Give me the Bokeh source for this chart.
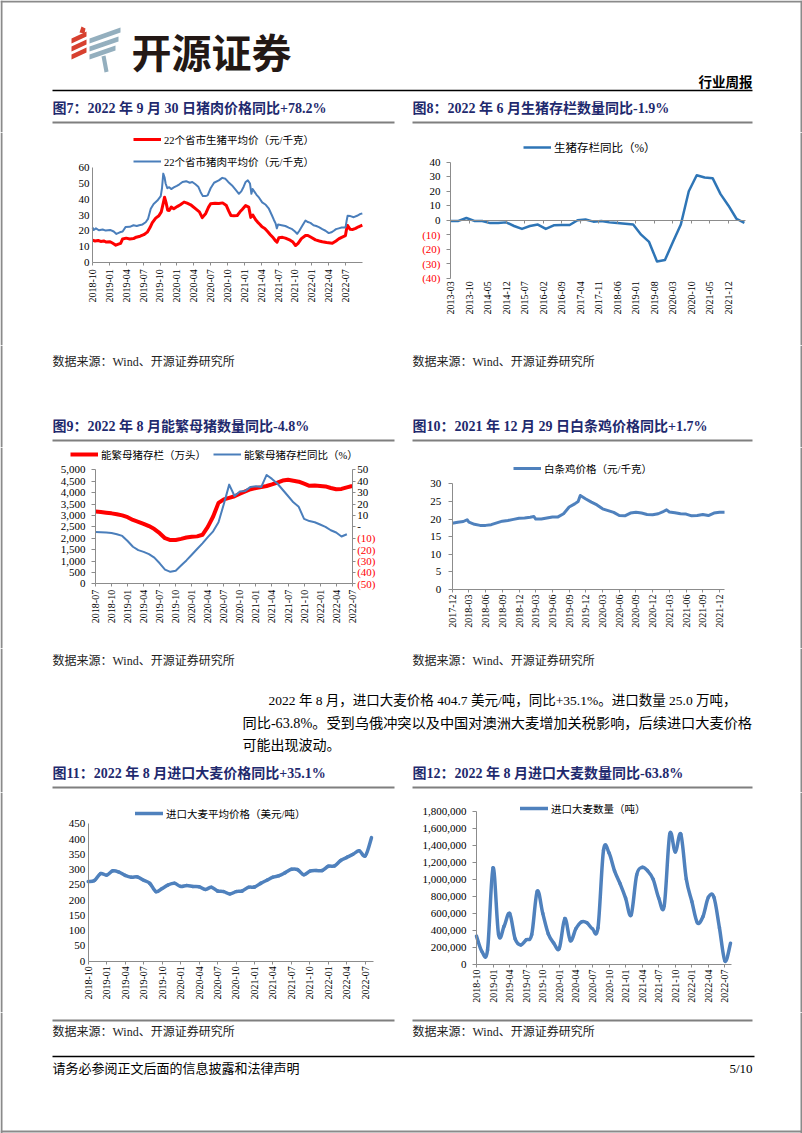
import math
import calendar
from bokeh.plotting import figure
from bokeh.layouts import column, row
from bokeh.models import (Range1d, LinearAxis, FixedTicker, NumeralTickFormatter,
                          Legend, LegendItem, ColumnDataSource, Span)
from bokeh.core.properties import value
from bokeh.embed import file_html
from bokeh.resources import INLINE

# ---------------------------------------------------------------- data
# Fig 7: 22-province pig / pork prices (yuan/kg)
c7_pork_dates = ["2018-10-01", "2018-10-08", "2018-10-20", "2018-11-05", "2018-11-25", "2018-12-12",
                 "2019-01-05", "2019-01-25", "2019-02-08", "2019-02-25", "2019-03-12", "2019-03-28",
                 "2019-04-20", "2019-05-10", "2019-05-28", "2019-06-10", "2019-06-28", "2019-07-15",
                 "2019-07-28", "2019-08-12", "2019-08-28", "2019-09-17", "2019-10-05", "2019-10-12",
                 "2019-10-19", "2019-10-26", "2019-11-01", "2019-11-10", "2019-11-20", "2019-12-01",
                 "2019-12-15", "2020-01-01", "2020-01-15", "2020-02-01", "2020-02-20", "2020-03-10",
                 "2020-03-24", "2020-04-10", "2020-04-25", "2020-05-08", "2020-05-20", "2020-06-04",
                 "2020-06-15", "2020-07-01", "2020-07-20", "2020-08-15", "2020-09-03", "2020-09-20",
                 "2020-10-05", "2020-10-26", "2020-11-15", "2020-12-02", "2020-12-15", "2020-12-28",
                 "2021-01-08", "2021-01-20", "2021-02-01", "2021-02-08", "2021-02-14", "2021-02-22",
                 "2021-03-05", "2021-03-20", "2021-04-06", "2021-04-25", "2021-05-12", "2021-05-28",
                 "2021-06-08", "2021-06-18", "2021-06-24", "2021-07-01", "2021-07-20", "2021-08-10",
                 "2021-08-28", "2021-09-16", "2021-10-01", "2021-10-13", "2021-10-25", "2021-11-09",
                 "2021-11-27", "2021-12-10", "2021-12-24", "2022-01-10", "2022-01-25", "2022-02-08",
                 "2022-02-25", "2022-03-14", "2022-04-01", "2022-04-15", "2022-04-28", "2022-05-10",
                 "2022-05-25", "2022-06-10", "2022-06-25", "2022-07-01", "2022-07-06", "2022-07-12",
                 "2022-07-27", "2022-08-15", "2022-09-02", "2022-09-20", "2022-09-30"]
c7_pork_vals = [22.0, 20.5, 21.5, 20.3, 20.8, 20.1,
                20.5, 19.5, 18.0, 19.0, 19.5, 22.3,
                22.5, 23.5, 23.0, 23.5, 24.0, 25.4,
                27.5, 34.0, 37.0, 39.2, 42.0, 47.0,
                56.3, 54.0, 50.0, 47.0, 47.7, 46.5,
                47.5, 48.5, 49.5, 51.0, 51.5, 50.5,
                51.0, 49.5, 48.0, 44.5, 42.0, 42.0,
                42.5, 47.0, 50.5, 52.0, 53.6, 53.0,
                51.0, 48.8, 46.0, 43.5, 45.0, 48.0,
                51.0, 52.0, 50.0, 43.5, 46.5, 45.0,
                43.0, 41.0, 38.0, 36.5, 34.0, 30.0,
                27.0, 24.5, 21.5, 24.0, 23.5, 23.0,
                22.0, 21.0, 19.5, 18.0, 20.0, 23.0,
                26.5, 25.5, 25.0, 23.5, 23.0, 22.3,
                21.0, 20.0, 18.5, 19.0, 20.0, 21.0,
                21.5, 22.0, 22.0, 22.5, 26.0, 29.5,
                29.3, 28.6, 29.5, 30.7, 31.0]
c7_pig_dates = ["2018-10-01", "2018-10-15", "2018-11-01", "2018-11-15", "2018-12-01", "2018-12-15",
                "2019-01-05", "2019-01-20", "2019-02-05", "2019-02-18", "2019-03-01", "2019-03-12",
                "2019-04-01", "2019-04-20", "2019-05-10", "2019-05-25", "2019-06-15", "2019-07-05",
                "2019-07-24", "2019-08-08", "2019-08-20", "2019-09-08", "2019-09-25", "2019-10-08",
                "2019-10-20", "2019-10-26", "2019-11-03", "2019-11-12", "2019-11-20", "2019-12-01",
                "2019-12-15", "2020-01-05", "2020-01-20", "2020-02-09", "2020-02-25", "2020-03-15",
                "2020-04-10", "2020-05-01", "2020-05-17", "2020-06-05", "2020-06-20", "2020-07-01",
                "2020-07-25", "2020-08-15", "2020-09-05", "2020-09-25", "2020-10-08", "2020-10-20",
                "2020-11-05", "2020-11-23", "2020-12-08", "2020-12-20", "2021-01-08", "2021-01-25",
                "2021-02-05", "2021-02-15", "2021-03-01", "2021-03-12", "2021-03-25", "2021-04-05",
                "2021-04-20", "2021-05-05", "2021-05-20", "2021-06-05", "2021-06-18", "2021-06-25",
                "2021-07-05", "2021-07-25", "2021-08-10", "2021-09-05", "2021-09-20", "2021-10-04",
                "2021-10-18", "2021-11-05", "2021-11-27", "2021-12-10", "2021-12-25", "2022-01-21",
                "2022-02-10", "2022-02-25", "2022-03-20", "2022-04-20", "2022-05-10", "2022-05-25",
                "2022-06-10", "2022-06-30", "2022-07-06", "2022-07-12", "2022-07-25", "2022-08-10",
                "2022-08-25", "2022-09-10", "2022-09-30"]
c7_pig_vals = [14.0, 13.5, 13.8, 13.2, 13.5, 12.8,
               13.0, 12.0, 10.8, 11.5, 12.0, 14.8,
               15.3, 14.8, 15.0, 15.9, 16.5, 17.5,
               19.1, 22.0, 25.0, 28.0, 29.5, 32.0,
               38.0, 41.3, 38.0, 33.0, 32.9, 35.0,
               34.0, 35.5, 36.5, 38.2, 37.5, 36.5,
               34.0, 32.0, 28.3, 31.0, 35.0, 37.1,
               37.5, 37.3, 37.7, 36.0, 32.5, 29.7,
               29.5, 29.7, 32.0, 33.5, 36.0, 35.0,
               28.5, 30.0, 27.0, 25.5, 24.0, 22.5,
               21.4, 19.5, 17.5, 15.5, 13.5, 12.7,
               15.5, 15.8, 15.3, 14.0, 12.8, 10.6,
               12.0, 15.0, 17.0, 17.0, 16.0, 14.2,
               13.5, 13.0, 12.5, 12.0, 13.5, 14.8,
               15.8, 16.9, 21.0, 23.3, 21.0, 20.8,
               21.5, 22.5, 23.5]
c7_ticks = ["2018-10", "2019-01", "2019-04", "2019-07", "2019-10", "2020-01", "2020-04", "2020-07",
            "2020-10", "2021-01", "2021-04", "2021-07", "2021-10", "2022-01", "2022-04", "2022-07"]

# Fig 8: hog inventory yoy (%)
c8_dates = ["2013-03", "2013-06", "2013-09", "2013-12", "2014-03", "2014-06", "2014-09", "2014-12",
            "2015-03", "2015-06", "2015-09", "2015-12", "2016-03", "2016-06", "2016-09", "2016-12",
            "2017-03", "2017-06", "2017-09", "2017-12", "2018-03", "2018-06", "2018-09", "2018-12",
            "2019-03", "2019-06", "2019-09", "2019-12", "2020-03", "2020-06", "2020-09", "2020-12",
            "2021-03", "2021-06", "2021-09", "2021-12", "2022-03", "2022-06"]
c8_vals = [-0.5, -0.5, 1.5, -0.5, -0.5, -2.0, -2.0, -1.5,
           -4.0, -6.0, -4.0, -3.0, -6.0, -3.5, -3.3, -3.3,
           0.0, 0.5, -1.0, -0.5, -1.5, -2.0, -2.5, -3.0,
           -10.0, -15.0, -28.5, -27.5, -15.0, -3.0, 20.0, 31.0,
           29.5, 29.0, 18.0, 10.0, 1.0, -1.9]
c8_ticks = ["2013-03", "2013-10", "2014-05", "2014-12", "2015-07", "2016-02", "2016-09", "2017-04",
            "2017-11", "2018-06", "2019-01", "2019-08", "2020-03", "2020-10", "2021-05", "2021-12"]

# Fig 9: breeding sows inventory (10k head) and yoy (%)
c9_dates = ["2018-07", "2018-08", "2018-09", "2018-10", "2018-11", "2018-12",
            "2019-01", "2019-02", "2019-03", "2019-04", "2019-05", "2019-06",
            "2019-07", "2019-08", "2019-09", "2019-10", "2019-11", "2019-12",
            "2020-01", "2020-02", "2020-03", "2020-04", "2020-05", "2020-06",
            "2020-07", "2020-08", "2020-09", "2020-10", "2020-11", "2020-12",
            "2021-01", "2021-02", "2021-03", "2021-04", "2021-05", "2021-06",
            "2021-07", "2021-08", "2021-09", "2021-10", "2021-11", "2021-12",
            "2022-01", "2022-02", "2022-03", "2022-04", "2022-05", "2022-06", "2022-07"]
c9_sows = [3170, 3150, 3120, 3090, 3050, 3000,
           2920, 2800, 2720, 2630, 2530, 2400,
           2220, 2000, 1920, 1920, 1970, 2030,
           2060, 2080, 2150, 2500, 2950, 3550,
           3700, 3770, 3840, 3950, 4050, 4150,
           4200, 4240, 4290, 4360, 4440, 4530,
           4560, 4520, 4480, 4390, 4300, 4310,
           4290, 4270, 4200, 4150, 4160, 4230, 4290]
c9_yoy = [-4.5, -4.7, -5.0, -5.5, -6.5, -8.0,
          -12.5, -17.5, -20.5, -22.0, -24.0, -27.0,
          -32.0, -37.5, -39.5, -38.5, -34.0, -29.5,
          -24.5, -19.5, -14.5, -9.0, -4.0, 4.0,
          20.0, 37.0, 27.0, 31.0, 31.5, 35.0,
          35.5, 35.0, 45.5, 42.0, 38.0, 32.5,
          27.0, 21.5, 17.5, 7.0, 5.0, 4.0,
          2.0, 0.0, -3.0, -5.0, -8.5, -6.5]
c9_ticks = ["2018-07", "2018-10", "2019-01", "2019-04", "2019-07", "2019-10", "2020-01", "2020-04",
            "2020-07", "2020-10", "2021-01", "2021-04", "2021-07", "2021-10", "2022-01", "2022-04",
            "2022-07"]

# Fig 10: white-strip chicken price (yuan/kg)
c10_dates = ["2017-12", "2018-01", "2018-02", "2018-02-20", "2018-03", "2018-04", "2018-05",
             "2018-06", "2018-07", "2018-08", "2018-09", "2018-10", "2018-11", "2018-12",
             "2019-01", "2019-02", "2019-02-20", "2019-03", "2019-04", "2019-05", "2019-06",
             "2019-07", "2019-08", "2019-09", "2019-10", "2019-10-20", "2019-11", "2019-12",
             "2020-01", "2020-02", "2020-03", "2020-04", "2020-05", "2020-06", "2020-07",
             "2020-08", "2020-09", "2020-10", "2020-11", "2020-12", "2021-01", "2021-02",
             "2021-02-15", "2021-03", "2021-04", "2021-05", "2021-06", "2021-07", "2021-08",
             "2021-09", "2021-10", "2021-11", "2021-12", "2021-12-29"]
c10_vals = [18.8, 19.1, 19.3, 19.8, 19.1, 18.5, 18.2,
            18.2, 18.4, 18.9, 19.4, 19.6, 19.9, 20.2,
            20.3, 20.5, 20.7, 20.0, 20.0, 20.3, 20.6,
            20.6, 21.5, 23.4, 24.3, 25.0, 26.7, 25.7,
            24.8, 24.0, 22.9, 22.4, 21.9, 21.0, 20.9,
            21.7, 21.9, 21.7, 21.3, 21.2, 21.5, 22.2,
            22.6, 22.0, 21.8, 21.5, 21.4, 20.9, 21.0,
            21.3, 21.0, 21.7, 21.9, 21.9]
c10_ticks = ["2017-12", "2018-03", "2018-06", "2018-09", "2018-12", "2019-03", "2019-06", "2019-09",
             "2019-12", "2020-03", "2020-06", "2020-09", "2020-12", "2021-03", "2021-06", "2021-09",
             "2021-12"]

# Fig 11 / 12: imported barley price (USD/t) and volume (t), monthly 2018-10 .. 2022-08
c11_months = ["2018-10", "2018-11", "2018-12", "2019-01", "2019-02", "2019-03", "2019-04", "2019-05",
              "2019-06", "2019-07", "2019-08", "2019-09", "2019-10", "2019-11", "2019-12", "2020-01",
              "2020-02", "2020-03", "2020-04", "2020-05", "2020-06", "2020-07", "2020-08", "2020-09",
              "2020-10", "2020-11", "2020-12", "2021-01", "2021-02", "2021-03", "2021-04", "2021-05",
              "2021-06", "2021-07", "2021-08", "2021-09", "2021-10", "2021-11", "2021-12", "2022-01",
              "2022-02", "2022-03", "2022-04", "2022-05", "2022-06", "2022-07", "2022-08"]
c11_price = [261, 264, 287, 282, 296, 292, 281, 275,
             276, 265, 255, 228, 238, 250, 255, 245,
             248, 245, 244, 235, 242, 230, 228, 220,
             228, 230, 242, 243, 255, 265, 275, 280,
             290, 301, 300, 283, 295, 297, 297, 311,
             312, 330, 340, 350, 362, 345, 404.7]
c12_volume = [333000, 150000, 170000, 1135000, 350000, 450000, 600000, 300000,
              230000, 290000, 350000, 860000, 600000, 360000, 250000, 190000,
              540000, 280000, 420000, 500000, 490000, 420000, 430000, 1340000,
              1310000, 1100000, 950000, 780000, 580000, 1050000, 1140000, 1100000,
              1000000, 780000, 690000, 1530000, 1320000, 1530000, 1000000, 740000,
              490000, 560000, 790000, 790000, 430000, 40000, 250000]
c11_ticks = ["2018-10", "2019-01", "2019-04", "2019-07", "2019-10", "2020-01", "2020-04", "2020-07",
             "2020-10", "2021-01", "2021-04", "2021-07", "2021-10", "2022-01", "2022-04", "2022-07"]

# ---------------------------------------------------------------- style
PAGE_W = 802
PAGE_H = 1133
SERIF = "'Liberation Serif', 'Noto Sans CJK SC', serif"
SANS = "'Noto Sans CJK SC', sans-serif"
NAVY = "#1F2A6E"
AXC = "#8C8C8C"
RED = "#FF0000"
BLUE = "#4A7EBB"
BLUE8 = "#2E75B6"
BLUE_T = "#4F81BD"
EDGE = "#8A8A8A"


def mi(s, base):
    y, m = int(s[:4]), int(s[5:7])
    d = int(s[8:10]) if len(s) > 7 else 1
    by, bm = int(base[:4]), int(base[5:7])
    dim = calendar.monthrange(y, m)[1]
    return (y - by) * 12 + (m - bm) + (d - 1) / dim


def band(h, y0):
    f = figure(width=PAGE_W, height=h, x_range=Range1d(0, PAGE_W), y_range=Range1d(y0 + h, y0),
               output_backend="svg", toolbar_location=None, min_border=0, title=None,
               x_axis_location=None, y_axis_location=None)
    f.grid.visible = False
    f.outline_line_color = None
    # page frame edges
    f.segment(x0=[1, PAGE_W - 1], y0=[y0, y0], x1=[1, PAGE_W - 1], y1=[y0 + h, y0 + h],
              line_color=EDGE, line_width=2)
    return f


def put_text(f, x, y, s, size, color="black", bold=False, align="left", font=SERIF):
    f.text(x=[x], y=[y], text=[s], text_font=value(font), text_font_size=value(size),
           text_color=color, text_font_style="bold" if bold else "normal",
           text_align=align, text_baseline="middle")


def hline(f, x0, x1, y, color, w):
    f.segment(x0=[x0], y0=[y], x1=[x1], y1=[y], line_color=color, line_width=w)


def span_range(f0, f1, d0, p0, d1, p1):
    s = (p1 - p0) / (d1 - d0)
    return Range1d(d0 + (f0 - p0) / s, d0 + (f1 - p0) / s)


def chart(box, xmap, ymap):
    # box: page rectangle of the figure; xmap/ymap: two (data value, page pixel) anchors
    fx0, fy0, fx1, fy1 = box
    (dx0, px0), (dx1, px1) = xmap
    (dy0, py0), (dy1, py1) = ymap
    xr = span_range(fx0, fx1, dx0, px0, dx1, px1)
    p = figure(width=fx1 - fx0, height=fy1 - fy0, title=None,
               x_range=xr, y_range=span_range(fy1, fy0, dy0, py0, dy1, py1),
               output_backend="svg", toolbar_location=None, min_border=0,
               x_axis_location=None, y_axis_location=None)
    p.grid.visible = False
    p.outline_line_color = None
    # page frame edge on the outer side of this column
    edge_px = 1 if fx0 == 0 else PAGE_W - 1
    loc = xr.start + (edge_px - fx0) * (xr.end - xr.start) / (fx1 - fx0)
    p.add_layout(Span(location=loc, dimension="height", line_color=EDGE, line_width=2))
    return p


def style(ax, size="11px", tick_out=4, standoff=5, color="black", line=True, ticks=True):
    ax.axis_line_color = AXC if line else None
    ax.major_tick_line_color = AXC if ticks else None
    ax.major_tick_in = 0
    ax.major_tick_out = tick_out
    ax.minor_tick_line_color = None
    ax.major_label_text_font = SERIF
    ax.major_label_text_font_size = size
    ax.major_label_text_color = color
    ax.major_label_standoff = standoff


def add_x(p, labels, base, at, bounds, standoff=3, tick_out=3, line=True, ticks=True, blank=False):
    pos = [float(mi(s, base)) for s in labels]
    ax = LinearAxis(fixed_location=at, bounds=bounds)
    ax.ticker = FixedTicker(ticks=pos)
    ax.major_label_overrides = {p_: ("" if blank else s) for p_, s in zip(pos, labels)}
    ax.major_label_orientation = math.pi / 2
    style(ax, size="10px", tick_out=tick_out, standoff=standoff, line=line, ticks=ticks)
    p.add_layout(ax, "below")
    return ax


def add_y(p, ticks, at, bounds, side="left", overrides=None, fmt=None, color="black",
          line=True, tick_out=4, standoff=6, range_name="default"):
    ax = LinearAxis(fixed_location=at, bounds=bounds, y_range_name=range_name)
    ax.ticker = FixedTicker(ticks=ticks)
    if overrides:
        ax.major_label_overrides = overrides
    if fmt:
        ax.formatter = fmt
    style(ax, tick_out=tick_out, standoff=standoff, color=color, line=line)
    p.add_layout(ax, side)
    return ax


def legend(p, items, loc, size="10.5px", orientation="vertical", spacing=6):
    lg = Legend(items=[LegendItem(label=t, renderers=[r]) for t, r in items], location=loc,
                orientation=orientation, padding=0, margin=0, spacing=spacing,
                glyph_width=28, glyph_height=16, label_height=16, label_standoff=3,
                label_text_font=SERIF, label_text_font_size=size, label_text_color="black",
                background_fill_alpha=0, border_line_alpha=0)
    p.add_layout(lg)


def smooth(xs, ys, t=1 / 6):
    n = len(xs)
    d = dict(x0=[], y0=[], x1=[], y1=[], cx0=[], cy0=[], cx1=[], cy1=[])
    for i in range(n - 1):
        a = i - 1 if i > 0 else i
        b = i + 2 if i + 2 < n else i + 1
        d["x0"].append(xs[i]); d["y0"].append(ys[i])
        d["x1"].append(xs[i + 1]); d["y1"].append(ys[i + 1])
        d["cx0"].append(xs[i] + (xs[i + 1] - xs[a]) * t)
        d["cy0"].append(ys[i] + (ys[i + 1] - ys[a]) * t)
        d["cx1"].append(xs[i + 1] - (xs[b] - xs[i]) * t)
        d["cy1"].append(ys[i + 1] - (ys[b] - ys[i]) * t)
    return ColumnDataSource(d)


# ---------------------------------------------------------------- header
hdr = band(132, 0)
hline(hdr, 0, PAGE_W, 1, EDGE, 2)
red_bars = [[(79, 32), (81, 26), (85, 28), (84, 33)],
            [(71, 38), (86, 31), (86, 36), (71, 43)],
            [(71, 46), (86, 39), (86, 44), (71, 51)],
            [(71, 54), (86, 47), (86, 52), (71, 59)]]
blue_bars = [[(89, 38), (120, 27), (120, 32), (89, 43)],
             [(89, 46), (118, 36), (118, 41), (89, 51)],
             [(89, 54), (115, 45), (115, 50), (89, 59)],
             [(101, 56), (105, 55), (108, 71), (104, 72)]]
hdr.patches(xs=[[q[0] for q in b] for b in red_bars], ys=[[q[1] for q in b] for b in red_bars],
            fill_color="#D7402F", line_color=None)
hdr.patches(xs=[[q[0] for q in b] for b in blue_bars], ys=[[q[1] for q in b] for b in blue_bars],
            fill_color="#94AFBE", line_color=None)
put_text(hdr, 131, 50, "开源证券", "40px", color="#231815", bold=True, font=SANS)
put_text(hdr, 752, 82, "行业周报", "13.5px", bold=True, align="right")
hline(hdr, 52, 752, 90, "black", 1.5)
put_text(hdr, 52, 108, "图7：2022 年 9 月 30 日猪肉价格同比+78.2%", "14px", color=NAVY, bold=True)
put_text(hdr, 412, 108, "图8：2022 年 6 月生猪存栏数量同比-1.9%", "14px", color=NAVY, bold=True)
hline(hdr, 52, 394, 122, "#7F7F7F", 2)
hline(hdr, 412, 752, 122, "#7F7F7F", 2)

# ---------------------------------------------------------------- chart 7
b7 = "2018-10"
c7 = chart((0, 132, 404, 345), ((0, 92), (48, 362)), ((0, 261.7), (60, 167.3)))
r7a = c7.line([mi(d, b7) for d in c7_pig_dates], c7_pig_vals, line_color=RED, line_width=3,
              line_join="round")
r7b = c7.line([mi(d, b7) for d in c7_pork_dates], c7_pork_vals, line_color=BLUE, line_width=2,
              line_join="round")
add_x(c7, c7_ticks, b7, 0, (0, 48), standoff=4, tick_out=3)
add_y(c7, [0, 10, 20, 30, 40, 50, 60], 0, (0, 60), tick_out=0, standoff=3)
legend(c7, [("22个省市生猪平均价（元/千克）", r7a), ("22个省市猪肉平均价（元/千克）", r7b)], (133, 176))

# ---------------------------------------------------------------- chart 8
b8 = "2013-03"
c8 = chart((404, 132, 802, 345), ((0, 450), (105, 728)), ((-40, 277.7), (40, 161.7)))
r8 = c8.line([mi(d, b8) for d in c8_dates], c8_vals, line_color=BLUE8, line_width=2.5,
             line_join="round")
add_x(c8, c8_ticks, b8, -40, (0, 111.5), standoff=3, tick_out=0, line=False, ticks=False)
add_x(c8, c8_ticks, b8, 0, (0, 111.5), standoff=0, tick_out=3, blank=True)
add_y(c8, [0, 10, 20, 30, 40], 0, (-40, 40), tick_out=4, standoff=6)
add_y(c8, [-40, -30, -20, -10], 0, (-40, 40), color=RED, line=False, tick_out=4, standoff=6,
      overrides={-40: "(40)", -30: "(30)", -20: "(20)", -10: "(10)"})
legend(c8, [("生猪存栏同比（%）", r8)], (119, 190), size="11.5px")

# ---------------------------------------------------------------- band 1
bd1 = band(102, 345)
put_text(bd1, 52, 361, "数据来源：Wind、开源证券研究所", "12px", color="#222222")
put_text(bd1, 412, 361, "数据来源：Wind、开源证券研究所", "12px", color="#222222")
put_text(bd1, 52, 426, "图9：2022 年 8 月能繁母猪数量同比-4.8%", "14px", color=NAVY, bold=True)
put_text(bd1, 412, 426, "图10：2021 年 12 月 29 日白条鸡价格同比+1.7%", "14px", color=NAVY, bold=True)
hline(bd1, 52, 394, 440, "#7F7F7F", 2)
hline(bd1, 412, 752, 440, "#7F7F7F", 2)

# ---------------------------------------------------------------- chart 9
b9 = "2018-07"
c9 = chart((0, 447, 404, 648), ((0, 95), (48, 351.7)), ((0, 583.3), (5000, 469.3)))
c9.extra_y_ranges = {"yoy": span_range(648, 447, -50, 583.3, 50, 469.3)}
x9 = [mi(d, b9) for d in c9_dates]
r9a = c9.line(x9, c9_sows, line_color=RED, line_width=4, line_join="round")
r9b = c9.line(x9[:len(c9_yoy)], c9_yoy, y_range_name="yoy", line_color=BLUE, line_width=2,
              line_join="round")
add_x(c9, c9_ticks, b9, 0, (0, 48), standoff=3, tick_out=3)
add_y(c9, list(range(0, 5001, 500)), 0, (0, 5000), fmt=NumeralTickFormatter(format="0,0"),
      tick_out=4, standoff=6)
add_y(c9, [0, 10, 20, 30, 40, 50], 48, (-50, 50), side="right", overrides={0: "-"},
      tick_out=3, standoff=2, range_name="yoy")
add_y(c9, [-50, -40, -30, -20, -10], 48, (-50, 50), side="right", color=RED, line=False,
      overrides={-50: "(50)", -40: "(40)", -30: "(30)", -20: "(20)", -10: "(10)"},
      tick_out=3, standoff=2, range_name="yoy")
legend(c9, [("能繁母猪存栏（万头）", r9a), ("能繁母猪存栏同比（%）", r9b)], (70, 186),
       orientation="horizontal", spacing=7)

# ---------------------------------------------------------------- chart 10
b10 = "2017-12"
c10 = chart((404, 447, 802, 648), ((0, 451.7), (48, 719)), ((0, 589), (30, 483.3)))
r10 = c10.line([mi(d, b10) for d in c10_dates], c10_vals, line_color=BLUE_T, line_width=3,
               line_join="round")
add_x(c10, c10_ticks, b10, 0, (0, 48.9), standoff=2, tick_out=3)
add_y(c10, [0, 5, 10, 15, 20, 25, 30], 0, (0, 30), tick_out=4, standoff=7)
legend(c10, [("白条鸡价格（元/千克）", r10)], (109, 172))

# ---------------------------------------------------------------- band 2
bd2 = band(144, 648)
put_text(bd2, 52, 660, "数据来源：Wind、开源证券研究所", "12px", color="#222222")
put_text(bd2, 412, 660, "数据来源：Wind、开源证券研究所", "12px", color="#222222")
put_text(bd2, 268, 700, "2022 年 8 月，进口大麦价格 404.7 美元/吨，同比+35.1%。进口数量 25.0 万吨，", "13.5px")
put_text(bd2, 242, 722, "同比-63.8%。受到乌俄冲突以及中国对澳洲大麦增加关税影响，后续进口大麦价格", "14.2px")
put_text(bd2, 242, 745, "可能出现波动。", "14px")
put_text(bd2, 52, 773, "图11：2022 年 8 月进口大麦价格同比+35.1%", "14px", color=NAVY, bold=True)
put_text(bd2, 412, 773, "图12：2022 年 8 月进口大麦数量同比-63.8%", "14px", color=NAVY, bold=True)
hline(bd2, 52, 394, 787, "#7F7F7F", 2)
hline(bd2, 412, 752, 787, "#7F7F7F", 2)

# ---------------------------------------------------------------- chart 11
b11 = "2018-10"
x11 = [mi(d, b11) for d in c11_months]
c11 = chart((0, 792, 404, 1012), ((0, 87.7), (46, 371)), ((0, 960.7), (450, 823.3)))
r11 = c11.bezier(x0="x0", y0="y0", x1="x1", y1="y1", cx0="cx0", cy0="cy0", cx1="cx1", cy1="cy1",
                 source=smooth(x11, c11_price), line_color=BLUE_T, line_width=3.5, line_cap="round")
add_x(c11, c11_ticks, b11, 0, (0, 46.3), standoff=2, tick_out=3)
add_y(c11, list(range(0, 451, 50)), 0, (0, 450), tick_out=0, standoff=3)
legend(c11, [("进口大麦平均价格（美元/吨）", r11)], (135, 191))

# ---------------------------------------------------------------- chart 12
c12 = chart((404, 792, 802, 1012), ((0, 476), (46, 730)), ((0, 964), (1800000, 810.7)))
r12 = c12.bezier(x0="x0", y0="y0", x1="x1", y1="y1", cx0="cx0", cy0="cy0", cx1="cx1", cy1="cy1",
                 source=smooth(x11, c12_volume), line_color=BLUE_T, line_width=3.5, line_cap="round")
add_x(c12, c11_ticks, b11, 0, (0, 46.2), standoff=2, tick_out=3)
add_y(c12, list(range(0, 1800001, 200000)), 0, (0, 1800000),
      fmt=NumeralTickFormatter(format="0,0"), tick_out=4, standoff=6)
legend(c12, [("进口大麦数量（吨）", r12)], (116, 196))

# ---------------------------------------------------------------- footer
ft = band(121, 1012)
hline(ft, 0, PAGE_W, PAGE_H - 2, EDGE, 2)
hline(ft, 52, 394, 1020, "#7F7F7F", 2)
hline(ft, 412, 752, 1020, "#7F7F7F", 2)
put_text(ft, 52, 1031, "数据来源：Wind、开源证券研究所", "12px", color="#222222")
put_text(ft, 412, 1031, "数据来源：Wind、开源证券研究所", "12px", color="#222222")
hline(ft, 52, 754, 1056, "black", 1.5)
put_text(ft, 52, 1068, "请务必参阅正文后面的信息披露和法律声明", "13px")
put_text(ft, 752, 1068, "5/10", "13px", align="right")

layout = column(hdr, row(c7, c8, spacing=0), bd1, row(c9, c10, spacing=0), bd2,
                row(c11, c12, spacing=0), ft, spacing=0)

open("out.html", "w").write(file_html(layout, INLINE))
